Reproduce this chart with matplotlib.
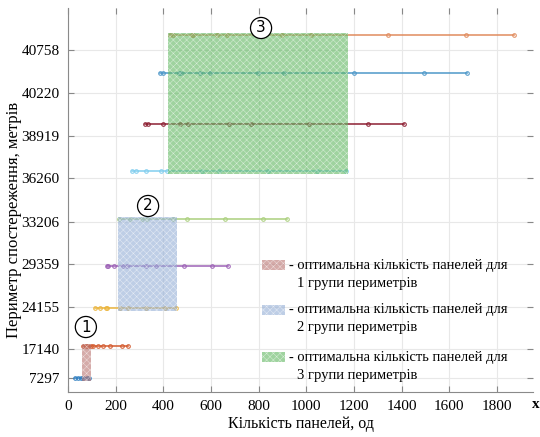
import matplotlib
matplotlib.use('Agg')
import matplotlib.pyplot as plt
from matplotlib.patches import Rectangle

plt.rcParams['font.family'] = ['Liberation Serif', 'DejaVu Serif']
plt.rcParams['hatch.linewidth'] = 0.35

# ---- data ----
perimeters = ['7297', '17140', '24155', '29359', '33206', '36260', '38919', '40220', '40758']
row_pos = [14, 46, 84, 126, 173, 221, 268, 319, 357]      # vertical position of each series
tick_pos = [14, 43, 85, 128, 170, 214, 256, 299, 342]     # position of the y tick labels

p7297 = [29, 43, 53, 64, 78, 89]
p17140 = [64, 76, 85, 95, 106, 127, 146, 176, 225, 253]
p24155 = [113, 134, 159, 165, 218, 253, 327, 407, 453]
p29359 = [162, 169, 194, 232, 246, 327, 369, 487, 603, 673]
p33206 = [215, 260, 309, 330, 442, 501, 659, 817, 918]
p36260 = [267, 285, 327, 389, 417, 561, 635, 838, 1044, 1167]
p38919 = [323, 337, 397, 470, 505, 676, 768, 1013, 1260, 1410]
p40220 = [386, 400, 467, 473, 554, 596, 799, 906, 1200, 1494, 1676]
p40758 = [428, 442, 519, 526, 624, 666, 897, 1018, 1344, 1670, 1872]
series = [p7297, p17140, p24155, p29359, p33206, p36260, p38919, p40220, p40758]

colors = ['#2E7EC1', '#D2572A', '#EBB43A', '#9B5FB5', '#A9CF7A',
          '#7FCDEE', '#8B1A2E', '#4A96C8', '#E0895A']

opt_lo = [60, 211, 421]
opt_hi = [97, 459, 1176]
group_rows = [(0, 1), (2, 4), (5, 8)]
group_labels = ['1', '2', '3']
label_x = [75, 336, 810]
label_y = [65, 186, 364]
rect_colors = ['#B97370', '#93AED6', '#5FB75F']

legend_line1 = '- оптимальна кількість панелей для'
legend_line2 = ['1 групи периметрів', '2 групи периметрів', '3 групи периметрів']

xticks = [0, 200, 400, 600, 800, 1000, 1200, 1400, 1600, 1800]

# ---- figure ----
fig = plt.figure(figsize=(5.4, 4.37), dpi=100)
ax = fig.add_axes([68/540, 1-392/437, (533-68)/540, (392-8)/437])
ax.set_xlim(0, 1951)
ax.set_ylim(0, 384)

for v, pos, c in zip(series, row_pos, colors):
    ax.plot(v, [pos]*len(v), color=c, lw=1.2, marker='o', ms=2.6,
            mfc='none', mew=0.8, alpha=0.9, zorder=3)

for i, (lo, hi) in enumerate(zip(opt_lo, opt_hi)):
    r0, r1 = group_rows[i]
    y0 = row_pos[r0] - 3
    y1 = row_pos[r1] + 2.5
    ax.add_patch(Rectangle((lo, y0), hi-lo, y1-y0, facecolor=rect_colors[i],
                           edgecolor='white', hatch='xxxxx', lw=0, alpha=0.6, zorder=4))
    ax.text(label_x[i], label_y[i], group_labels[i], ha='center', va='center', fontsize=11,
            family=['DejaVu Sans'],
            bbox=dict(boxstyle='circle,pad=0.2', fc='white', ec='black', lw=0.9), zorder=6)

ax.set_xticks(xticks)
ax.set_xticklabels([str(t) for t in xticks], fontsize=11)
ax.set_yticks(tick_pos)
ax.set_yticklabels(perimeters, fontsize=11)
ax.grid(True, color='#E8E8E8', lw=0.8, zorder=0)
ax.set_axisbelow(True)
ax.tick_params(axis='both', direction='in', length=4, color='#888888',
               right=True, top=True, pad=6)
for s in ['top', 'right']:
    ax.spines[s].set_visible(False)
for s in ['left', 'bottom']:
    ax.spines[s].set_color('#8A8A8A')
    ax.spines[s].set_linewidth(0.8)

ax.set_xlabel('Кількість панелей, од', fontsize=11.5, labelpad=2)
ax.set_ylabel('Периметр спостереження, метрів', fontsize=12, labelpad=4)
ax.yaxis.set_label_coords(-0.098, 0.448)
fig.text(536/540, 1-405/437, 'x', fontsize=11, fontweight='bold', ha='center', va='center')

# legend drawn manually
line1_y = [265, 310, 357]
for i in range(3):
    yc = line1_y[i]
    fig.add_artist(Rectangle((262/540, 1-(yc+5)/437), 23/540, 10/437,
                             transform=fig.transFigure, facecolor=rect_colors[i],
                             edgecolor='white', hatch='xxxxx', lw=0, alpha=0.6))
    fig.text(289/540, 1-yc/437, legend_line1, fontsize=10.5, ha='left', va='center')
    fig.text(297/540, 1-(yc+18)/437, legend_line2[i], fontsize=10.5, ha='left', va='center')

fig.savefig('out.png', dpi=100)
